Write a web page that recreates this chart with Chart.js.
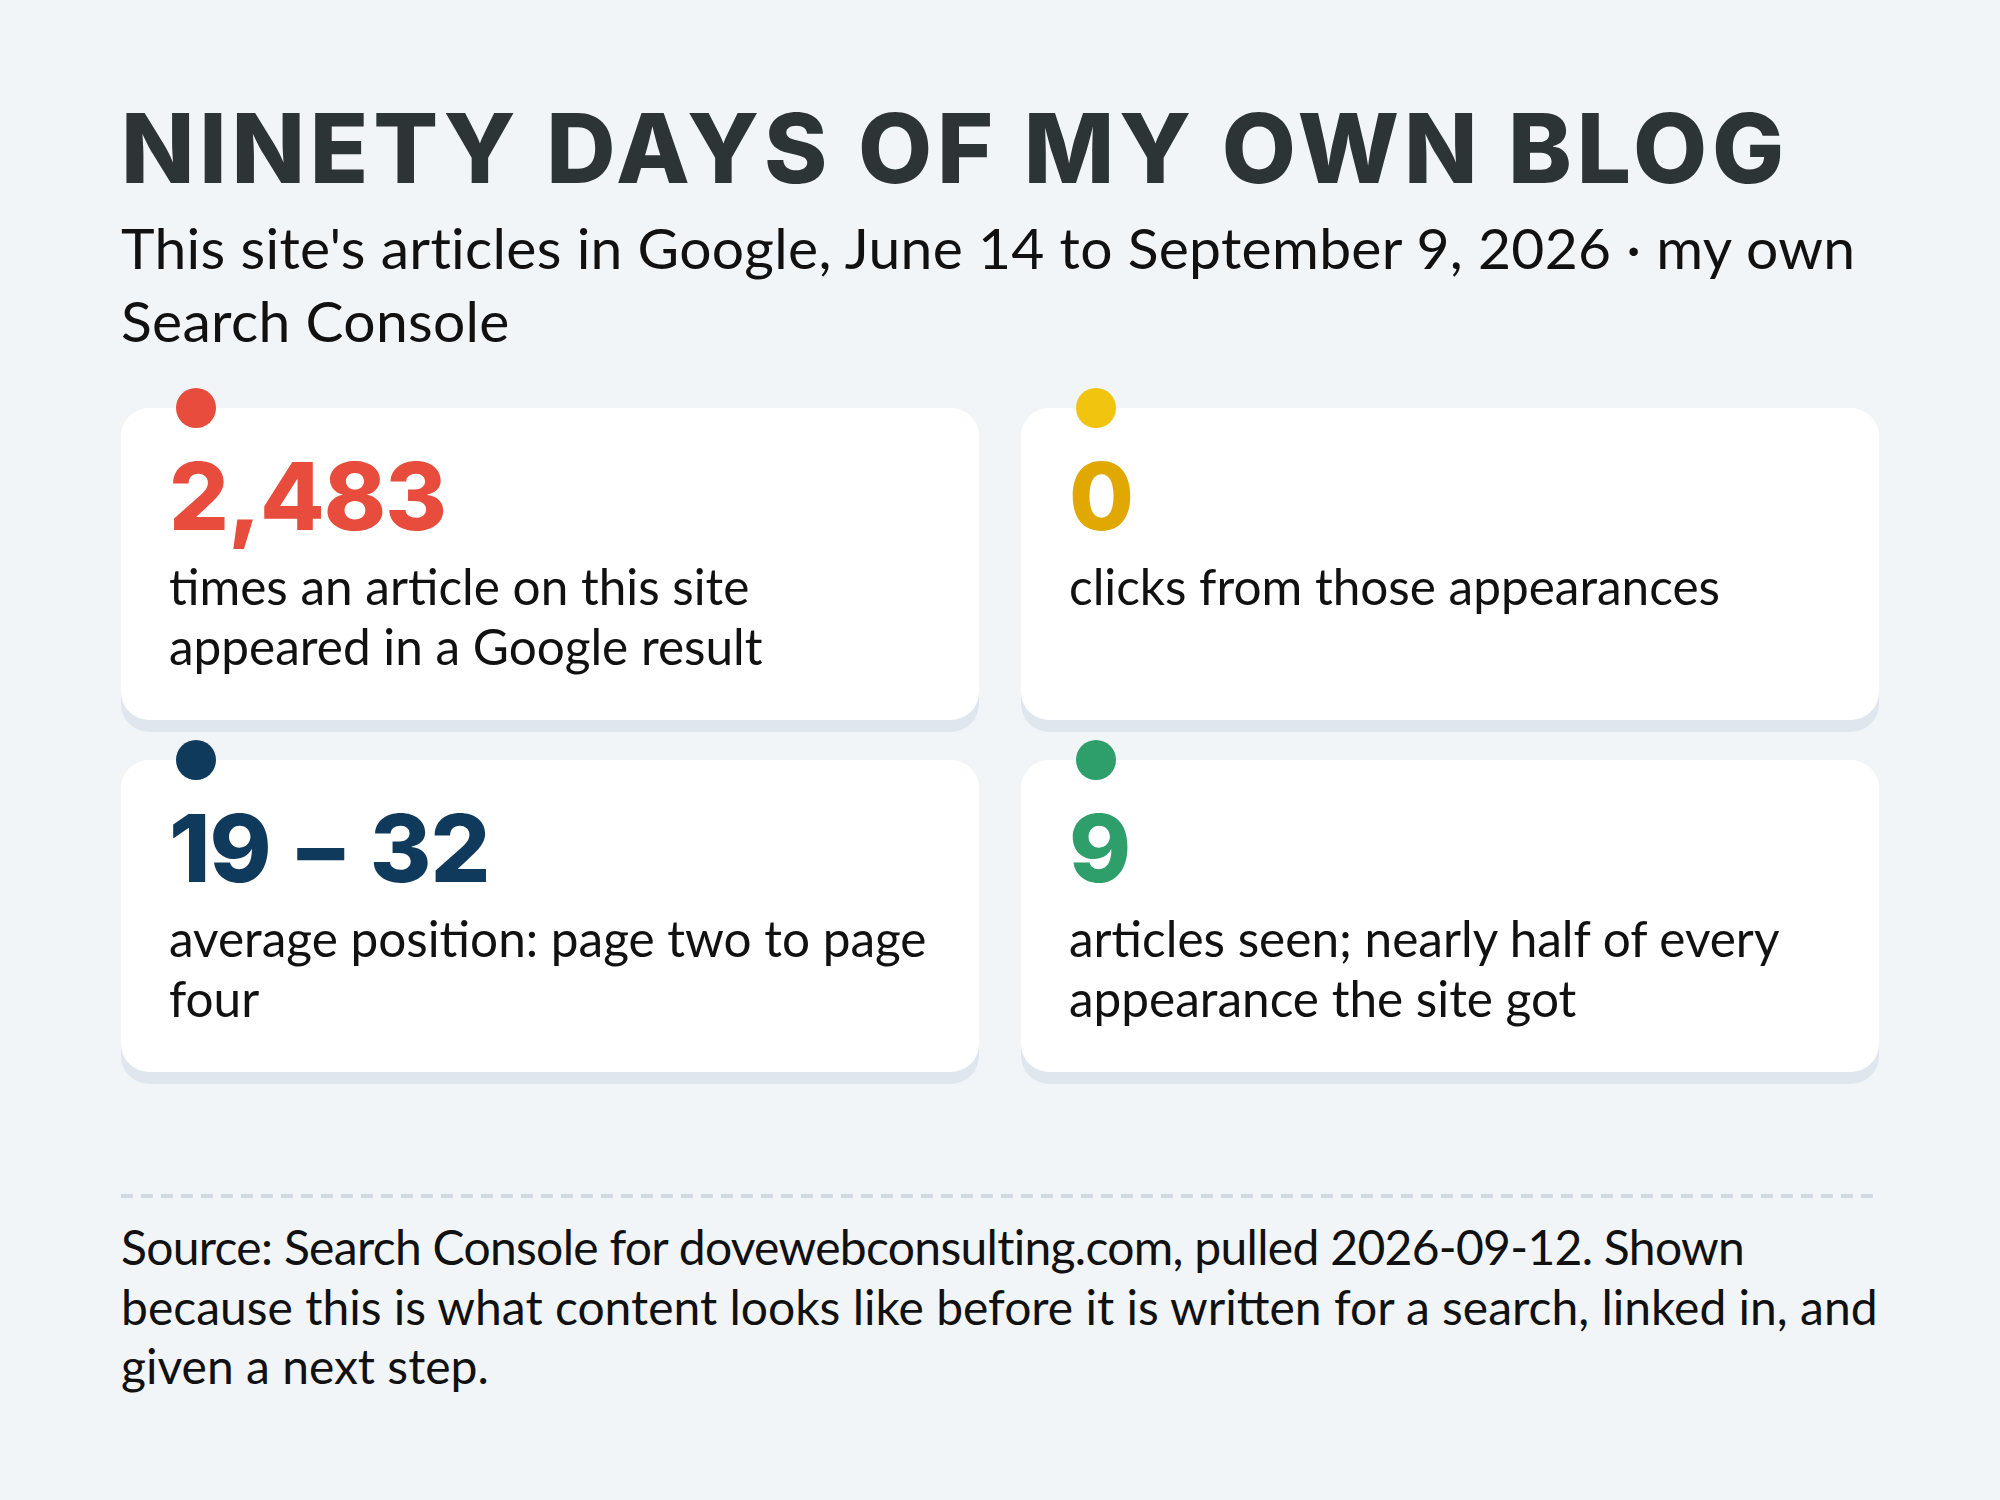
<!DOCTYPE html>
<html>
<head>
<meta charset="utf-8">
<title>Ninety days of my own blog</title>
<script src="https://cdn.jsdelivr.net/npm/chart.js@4.4.1/dist/chart.umd.min.js"></script>
<style>
  html, body { margin: 0; padding: 0; }
  body {
    width: 2000px; height: 1500px; position: relative; overflow: hidden;
    background: #f2f5f8; color: #111;
    font-family: Lato, "Noto Sans", sans-serif;
  }
  .abs { position: absolute; white-space: nowrap; }
  #title {
    left: 121px; top: 100px;
    font-family: Inter, sans-serif; font-weight: 800;
    font-size: 96px; line-height: 96px; letter-spacing: 4.8px;
    color: #2d3436;
  }
  #subtitle { left: 121px; top: 211px; font-size: 57px; line-height: 73px; letter-spacing: 0.3px; }
  #grid { left: 121px; top: 388px; }
  .kpi-value {
    font-family: Inter, sans-serif; font-weight: 800;
    font-size: 94px; line-height: 94px; letter-spacing: -1px; word-spacing: 7px;
  }
  .kpi-label { font-size: 49.5px; line-height: 60px; }
  #rule {
    left: 121px; top: 1194px; width: 1758px; height: 4px;
    background: repeating-linear-gradient(to right, #d3d9e0 0 12px, transparent 12px 20px);
  }
  #source { left: 121px; top: 1217px; font-size: 48px; line-height: 59.5px; }
  #source .tight { letter-spacing: -0.7px; }
</style>
</head>
<body>
<div id="title" class="abs">NINETY DAYS OF MY OWN BLOG</div>
<div id="subtitle" class="abs">This site's articles in Google, June 14 to September 9, 2026 · my own<br>Search Console</div>
<canvas id="grid" class="abs" width="1758" height="712"></canvas>
<div id="texts"></div>
<div id="rule" class="abs"></div>
<div id="source" class="abs"><span class="tight">Source: Search Console for dovewebconsulting.com, pulled 2026-09-12. Shown</span><br>because this is what content looks like before it is written for a search, linked in, and<br>given a next step.</div>

<script>
// KPI data
const kpiNumbers = [[2483], [0], [19, 32], [9]];
const kpiLabels = [
  ['times an article on this site', 'appeared in a Google result'],
  ['clicks from those appearances'],
  ['average position: page two to page', 'four'],
  ['articles seen; nearly half of every', 'appearance the site got']
];
const dotColors = ['#e74c3c', '#f1c40f', '#0f3a5c', '#2e9e6a'];
const valueColors = ['#e74c3c', '#e0a800', '#0f3a5c', '#2e9e6a'];

// card geometry (px)
const COL_PITCH = 900, ROW_PITCH = 352;
const CARD_W = 858, CARD_H = 312, CARD_R = 28, SHADOW = 12;
const DOT_INSET = 75, DOT_TOP = 20, PAD = 48;
const GRID_LEFT = 121, GRID_TOP = 388;

const canvas = document.getElementById('grid');
const W = canvas.width, H = canvas.height;

const points = kpiNumbers.map((v, i) => ({ x: i % 2, y: Math.floor(i / 2) }));

const cardPanels = {
  id: 'cardPanels',
  beforeDatasetsDraw(chart) {
    const ctx = chart.ctx, xs = chart.scales.x, ys = chart.scales.y;
    ctx.save();
    points.forEach(p => {
      const left = xs.getPixelForValue(p.x) - DOT_INSET;
      const top = ys.getPixelForValue(p.y);
      ctx.fillStyle = '#dfe6ed';
      ctx.beginPath();
      ctx.roundRect(left, top + SHADOW, CARD_W, CARD_H, CARD_R);
      ctx.fill();
      ctx.fillStyle = '#ffffff';
      ctx.beginPath();
      ctx.roundRect(left, top, CARD_W, CARD_H, CARD_R);
      ctx.fill();
    });
    ctx.restore();
  }
};

const chart = new Chart(canvas, {
  type: 'scatter',
  data: {
    datasets: [{
      data: points,
      pointRadius: 20,
      pointHoverRadius: 20,
      pointBackgroundColor: dotColors,
      pointBorderWidth: 0,
      clip: false
    }]
  },
  options: {
    responsive: false,
    animation: false,
    devicePixelRatio: 1,
    events: [],
    layout: { padding: 0, autoPadding: false },
    plugins: { legend: { display: false }, tooltip: { enabled: false } },
    scales: {
      x: { type: 'linear', display: false, min: -DOT_INSET / COL_PITCH, max: (W - DOT_INSET) / COL_PITCH },
      y: { type: 'linear', display: false, reverse: true, min: -DOT_TOP / ROW_PITCH, max: (H - DOT_TOP) / ROW_PITCH }
    }
  },
  plugins: [cardPanels]
});

// place the card texts on the same scales as the panels
const texts = document.getElementById('texts');
const xs = chart.scales.x, ys = chart.scales.y;
points.forEach((p, i) => {
  const left = GRID_LEFT + xs.getPixelForValue(p.x) - DOT_INSET + PAD;
  const top = GRID_TOP + ys.getPixelForValue(p.y);

  const value = document.createElement('div');
  value.className = 'abs kpi-value';
  value.style.left = left + 'px';
  value.style.top = (top + 41) + 'px';
  value.style.color = valueColors[i];
  value.textContent = kpiNumbers[i].map(n => n.toLocaleString('en-US')).join(' – ');
  texts.appendChild(value);

  const label = document.createElement('div');
  label.className = 'abs kpi-label';
  label.style.left = left + 'px';
  label.style.top = (top + 148) + 'px';
  label.innerHTML = kpiLabels[i].join('<br>');
  texts.appendChild(label);
});
</script>
</body>
</html>
